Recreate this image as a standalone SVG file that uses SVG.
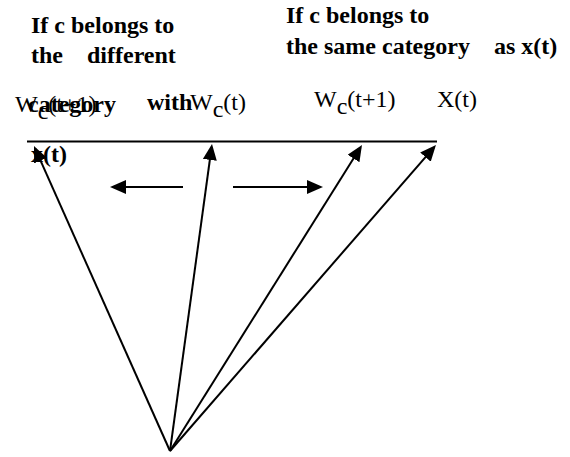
<svg xmlns="http://www.w3.org/2000/svg" width="570" height="457" viewBox="0 0 570 457">
<style>
.b{font-family:"Liberation Serif","Times New Roman",serif;font-weight:bold;font-size:24px;fill:#000}
.r{font-family:"Liberation Serif","Times New Roman",serif;font-size:24px;fill:#000}
.ln{stroke:#000;stroke-width:2;fill:none}
</style>
<defs>
<marker id="ah" markerUnits="userSpaceOnUse" markerWidth="16" markerHeight="14" refX="13" refY="7" orient="auto">
<path d="M0,0 L16,7 L0,14 z" fill="#000"/>
</marker>
</defs>
<rect width="570" height="457" fill="#fff"/>
<g id="labels-left">
<text class="b" x="31" y="33">If c belongs to</text>
<text class="b" x="31" y="63">the</text>
<text class="b" x="87" y="63">different</text>
<text class="r" x="15" y="112">W<tspan dy="7">c</tspan><tspan dy="-7">(t+1)</tspan></text>
<text class="b" x="28" y="112">category</text>
<text class="b" x="147" y="110">with</text>
<text class="r" x="190" y="110">W<tspan dy="7">c</tspan><tspan dy="-7">(t)</tspan></text>
<text class="b" x="31" y="162">x(t)</text>
</g>
<g id="labels-right">
<text class="b" x="286" y="23">If c belongs to</text>
<text class="b" x="286" y="54">the same category</text>
<text class="b" x="494" y="54">as x(t)</text>
<text class="r" x="314" y="107">W<tspan dy="7">c</tspan><tspan dy="-7">(t+1)</tspan></text>
<text class="r" x="437" y="107">X(t)</text>
</g>
<g id="connectors">
<line class="ln" x1="27" y1="141.5" x2="437" y2="141.5"/>
<line class="ln" x1="170" y1="451" x2="35.2" y2="148.7" marker-end="url(#ah)"/>
<line class="ln" x1="170" y1="451" x2="211.6" y2="147" marker-end="url(#ah)"/>
<line class="ln" x1="170" y1="451" x2="360.4" y2="147.5" marker-end="url(#ah)"/>
<line class="ln" x1="170" y1="451" x2="434" y2="147.3" marker-end="url(#ah)"/>
<line class="ln" x1="183" y1="187" x2="113" y2="187" marker-end="url(#ah)"/>
<line class="ln" x1="233" y1="187" x2="320" y2="187" marker-end="url(#ah)"/>
</g>
</svg>
